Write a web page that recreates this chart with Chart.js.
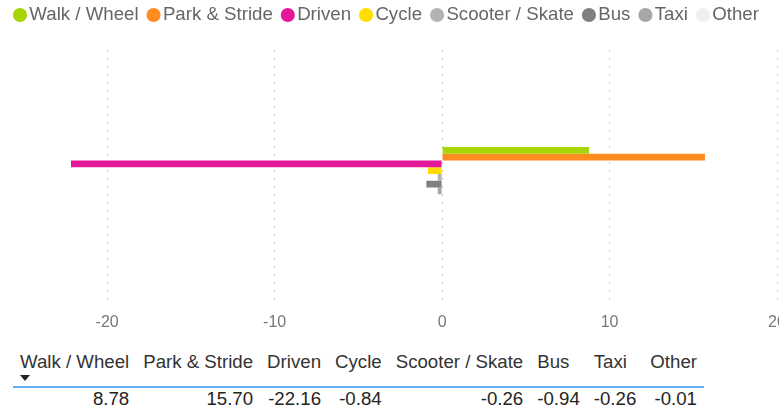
<!DOCTYPE html>
<html>
<head>
<meta charset="utf-8">
<script src="https://cdn.jsdelivr.net/npm/chart.js@4"></script>
<style>
  body { margin: 0; background: #fff; font-family: "Liberation Sans", Arial, sans-serif; }
  #wrap { position: relative; width: 779px; height: 412px; overflow: hidden; }
  #box { position: absolute; left: 0; top: 0; width: 800px; height: 341px; }
  #tbl { position: absolute; left: 13px; top: 350px; border-collapse: collapse; font-size: 18.67px; }
  #tbl th { font-weight: normal; color: #333; text-align: left; padding: 0 7px; height: 36px;
            vertical-align: top; line-height: 24px; white-space: nowrap; border-bottom: 2px solid #62aef0; }
  #tbl td { text-align: right; padding: 0 7px; color: #252423; line-height: 22px; white-space: nowrap; }
  .sort { display: block; width: 0; height: 0; margin: 1px 0 0 0;
          border-left: 5px solid transparent; border-right: 5px solid transparent; border-top: 6px solid #252423; }
</style>
</head>
<body>
<div id="wrap">
  <div id="box"><canvas id="chart"></canvas></div>
  <table id="tbl"><thead><tr id="head"></tr></thead><tbody><tr id="vals"></tr></tbody></table>
</div>
<script>
// series shown as legend items, bars and table columns
const seriesNames = ['Walk / Wheel', 'Park & Stride', 'Driven', 'Cycle', 'Scooter / Skate', 'Bus', 'Taxi', 'Other'];
const seriesValues = [8.78, 15.70, -22.16, -0.84, -0.26, -0.94, -0.26, -0.01];
const seriesColors = ['#a6d608', '#ff8c21', '#e3179a', '#ffdd00', '#b3b3b3', '#7f7f7f', '#a6a6a6', '#efefef'];

// x axis
const xTicks = [-20, -10, 0, 10, 20];
const xMin = -22.16;
const xMax = 20;

var font = '"Liberation Sans", Arial, sans-serif';

// table under the chart
var head = document.getElementById('head');
var vals = document.getElementById('vals');
seriesNames.forEach(function (name, i) {
  var th = document.createElement('th');
  th.textContent = name;
  if (i === 0) {
    var arrow = document.createElement('span');
    arrow.className = 'sort';
    th.appendChild(arrow);
  }
  head.appendChild(th);
  var td = document.createElement('td');
  td.textContent = seriesValues[i].toFixed(2);
  vals.appendChild(td);
});

// make the legend box taller so the plot starts lower
var legendHeight = {
  id: 'legendHeight',
  beforeUpdate: function (chart) {
    var lg = chart.legend;
    if (lg && !lg._tall) {
      var fit = lg.fit;
      lg.fit = function () { fit.call(this); this.height = 59.3; };
      lg._tall = true;
    }
  }
};

var ctx = document.getElementById('chart').getContext('2d');

var myChart = new Chart(ctx, {
  type: 'bar',
  data: {
    labels: [''],
    datasets: seriesNames.map(function (name, i) {
      return {
        label: name,
        data: [seriesValues[i]],
        backgroundColor: seriesColors[i],
        borderColor: seriesColors[i],
        borderWidth: 0,
        barPercentage: 1,
        categoryPercentage: 0.218
      };
    })
  },
  options: {
    indexAxis: 'y',
    responsive: true,
    maintainAspectRatio: false,
    animation: false,
    layout: { padding: { left: 5, right: 0, top: -9.3, bottom: 0 } },
    plugins: {
      tooltip: { enabled: false },
      legend: {
        position: 'top',
        align: 'start',
        labels: {
          usePointStyle: true,
          pointStyle: 'circle',
          boxWidth: 0.01,
          boxHeight: 10,
          padding: 15,
          color: '#666',
          font: { family: font, size: 18.67 }
        }
      }
    },
    scales: {
      x: {
        min: xMin,
        max: xMax,
        afterBuildTicks: function (scale) {
          scale.ticks = xTicks.map(function (v) { return { value: v }; });
        },
        grid: {
          color: '#c8c8c8',
          lineWidth: 1,
          tickLength: 6,
          tickColor: '#c8c8c8',
          tickBorderDash: [2, 6]
        },
        border: { display: false, dash: [2, 6] },
        ticks: {
          color: '#777',
          padding: 9,
          maxRotation: 0,
          font: { family: font, size: 16 }
        }
      },
      y: {
        afterFit: function (scale) { scale.width = 66; },
        grid: { display: false },
        border: { display: false },
        ticks: { display: false }
      },
      // empty right-hand axis, only keeps the plot clear of the right edge
      yRight: {
        type: 'linear',
        position: 'right',
        afterFit: function (scale) { scale.width = 23; },
        grid: { display: false },
        border: { display: false },
        ticks: { display: false }
      }
    }
  },
  plugins: [legendHeight]
});
</script>
</body>
</html>
